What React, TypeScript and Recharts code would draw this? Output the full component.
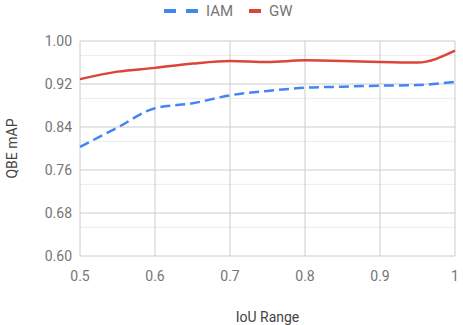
import React from "react";
import { LineChart, Line, XAxis, YAxis, CartesianGrid, Label } from "recharts";

const iouSteps = [0.5, 0.55, 0.6, 0.65, 0.7, 0.75, 0.8, 0.85, 0.9, 0.95, 1.0];
const iamValues = [0.803, 0.839, 0.875, 0.884, 0.899, 0.907, 0.913, 0.915, 0.917, 0.918, 0.924];
const gwValues = [0.929, 0.943, 0.95, 0.958, 0.963, 0.961, 0.964, 0.963, 0.961, 0.96, 0.982];

const xTicks = [0.5, 0.6, 0.7, 0.8, 0.9, 1.0];
const yTicks = [0.6, 0.68, 0.76, 0.84, 0.92, 1.0];
const yMinor = [0.6267, 0.6533, 0.7067, 0.7333, 0.7867, 0.8133, 0.8667, 0.8933, 0.9467, 0.9733];

const BLUE = "#4285f4";
const RED = "#db4437";
const FONT = "Roboto, sans-serif";

const data = iouSteps.map((x, i) => ({ iou: x, iam: iamValues[i], gw: gwValues[i] }));

function LegendRow() {
  return (
    <div
      style={{
        position: "absolute",
        top: 1,
        left: 164,
        display: "flex",
        alignItems: "center",
        fontFamily: FONT,
        fontSize: 15,
        color: "#757575",
        height: 20,
      }}
    >
      <svg width={34} height={6} style={{ marginRight: 8 }}>
        <line x1={0} y1={3} x2={34} y2={3} stroke={BLUE} strokeWidth={4} strokeDasharray="12 10" />
      </svg>
      <span style={{ marginRight: 16 }}>IAM</span>
      <svg width={12} height={6} style={{ marginRight: 8 }}>
        <line x1={0} y1={3} x2={12} y2={3} stroke={RED} strokeWidth={4} />
      </svg>
      <span>GW</span>
    </div>
  );
}

export default function App() {
  return (
    <div style={{ position: "absolute", left: 0, top: 0, width: 463, height: 325, background: "#fff" }}>
      <LineChart width={463} height={325} data={data} margin={{ top: 41, right: 8, bottom: 0, left: 0 }}>
        <CartesianGrid horizontalValues={yMinor} vertical={false} stroke="#ebebeb" strokeWidth={1} />
        <CartesianGrid horizontalValues={yTicks} verticalValues={xTicks} stroke="#cccccc" strokeWidth={1} />
        <XAxis
          dataKey="iou"
          type="number"
          domain={[0.5, 1]}
          ticks={xTicks}
          tickFormatter={(v: number) => String(v)}
          axisLine={false}
          tickLine={false}
          tickSize={0}
          tickMargin={15}
          height={69}
          tick={{ fontSize: 14, fill: "#757575", fontFamily: FONT }}
        >
          <Label value="IoU Range" position="insideBottom" offset={3} style={{ fontSize: 14, fill: "#444", fontFamily: FONT }} />
        </XAxis>
        <YAxis
          type="number"
          domain={[0.6, 1]}
          ticks={yTicks}
          tickFormatter={(v: number) => v.toFixed(2)}
          axisLine={false}
          tickLine={false}
          tickSize={0}
          tickMargin={8}
          width={80}
          tick={{ fontSize: 14, fill: "#757575", fontFamily: FONT }}
        >
          <Label
            value="QBE mAP"
            angle={-90}
            position="insideLeft"
            offset={12}
            style={{ fontSize: 14, fill: "#444", fontFamily: FONT, textAnchor: "middle" }}
          />
        </YAxis>
        <Line
          type="monotone"
          dataKey="iam"
          stroke={BLUE}
          strokeWidth={2.5}
          strokeDasharray="10 5"
          dot={false}
          isAnimationActive={false}
        />
        <Line type="monotone" dataKey="gw" stroke={RED} strokeWidth={2.5} dot={false} isAnimationActive={false} />
      </LineChart>
      <LegendRow />
    </div>
  );
}
